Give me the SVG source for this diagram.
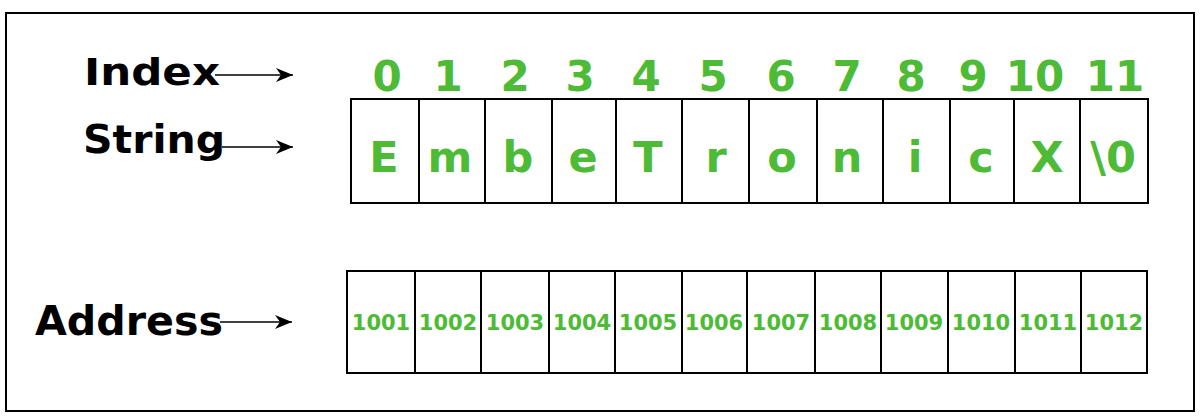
<svg xmlns="http://www.w3.org/2000/svg" width="1200" height="417" viewBox="0 0 1200 417">
<defs>
<marker id="ah" markerUnits="userSpaceOnUse" markerWidth="18" markerHeight="16" refX="17" refY="8" orient="auto">
<path d="M0,1 L17,8 L0,15 L5,8 z" fill="#000"/>
</marker>
<style>
.lbl{font-family:"DejaVu Sans","Liberation Sans",sans-serif;font-weight:bold;fill:#000}
.g{font-family:"DejaVu Sans","Liberation Sans",sans-serif;font-weight:bold;fill:#4dbb35;text-anchor:middle}
.idx{font-size:42px}
.ch{font-size:43px}
.ad{font-size:21px}
.cell{fill:#fff;stroke:#000;stroke-width:2}
.arr{stroke:#000;stroke-width:1.6;fill:none;marker-end:url(#ah)}
</style>
</defs>
<rect x="0" y="0" width="1200" height="417" fill="#fff"/>
<rect x="6" y="13" width="1188" height="398" fill="none" stroke="#000" stroke-width="2"/>

<g id="label-index"><text class="lbl" x="84" y="85" font-size="38" textLength="136" lengthAdjust="spacingAndGlyphs">Index</text></g>
<g id="label-string"><text class="lbl" x="83" y="153" font-size="39" textLength="142" lengthAdjust="spacingAndGlyphs">String</text></g>
<g id="label-address"><text class="lbl" x="35" y="335" font-size="41" textLength="188" lengthAdjust="spacingAndGlyphs">Address</text></g>

<g id="index-row">
<text class="g idx" x="387" y="91">0</text>
<text class="g idx" x="448" y="91">1</text>
<text class="g idx" x="515" y="91">2</text>
<text class="g idx" x="580" y="91">3</text>
<text class="g idx" x="646" y="91">4</text>
<text class="g idx" x="713" y="91">5</text>
<text class="g idx" x="781" y="91">6</text>
<text class="g idx" x="847" y="91">7</text>
<text class="g idx" x="911" y="91">8</text>
<text class="g idx" x="973" y="91">9</text>
<text class="g idx" x="1035" y="91">10</text>
<text class="g idx" x="1115" y="91">11</text>
</g>

<g id="string-cells">
<rect class="cell" x="351" y="99" width="68" height="104"/>
<rect class="cell" x="419" y="99" width="66" height="104"/>
<rect class="cell" x="485" y="99" width="67" height="104"/>
<rect class="cell" x="552" y="99" width="64" height="104"/>
<rect class="cell" x="616" y="99" width="66" height="104"/>
<rect class="cell" x="682" y="99" width="67" height="104"/>
<rect class="cell" x="749" y="99" width="68" height="104"/>
<rect class="cell" x="817" y="99" width="66" height="104"/>
<rect class="cell" x="883" y="99" width="67" height="104"/>
<rect class="cell" x="950" y="99" width="64" height="104"/>
<rect class="cell" x="1014" y="99" width="66" height="104"/>
<rect class="cell" x="1080" y="99" width="68" height="104"/>
<text class="g ch" x="384" y="172">E</text>
<text class="g ch" x="450" y="172">m</text>
<text class="g ch" x="518" y="172">b</text>
<text class="g ch" x="583" y="172">e</text>
<text class="g ch" x="648" y="172">T</text>
<text class="g ch" x="716" y="172">r</text>
<text class="g ch" x="782" y="172">o</text>
<text class="g ch" x="847" y="172">n</text>
<text class="g ch" x="915" y="172">i</text>
<text class="g ch" x="981" y="172">c</text>
<text class="g ch" x="1047" y="172">X</text>
<text class="g ch" x="1113" y="172">\0</text>
</g>

<g id="address-cells">
<rect class="cell" x="347" y="271" width="68" height="102"/>
<rect class="cell" x="415" y="271" width="66" height="102"/>
<rect class="cell" x="481" y="271" width="68" height="102"/>
<rect class="cell" x="549" y="271" width="66" height="102"/>
<rect class="cell" x="615" y="271" width="67" height="102"/>
<rect class="cell" x="682" y="271" width="65" height="102"/>
<rect class="cell" x="747" y="271" width="68" height="102"/>
<rect class="cell" x="815" y="271" width="66" height="102"/>
<rect class="cell" x="881" y="271" width="67" height="102"/>
<rect class="cell" x="948" y="271" width="67" height="102"/>
<rect class="cell" x="1015" y="271" width="66" height="102"/>
<rect class="cell" x="1081" y="271" width="66" height="102"/>
<text class="g ad" x="381" y="330">1001</text>
<text class="g ad" x="448" y="330">1002</text>
<text class="g ad" x="515" y="330">1003</text>
<text class="g ad" x="582" y="330">1004</text>
<text class="g ad" x="648" y="330">1005</text>
<text class="g ad" x="714" y="330">1006</text>
<text class="g ad" x="781" y="330">1007</text>
<text class="g ad" x="848" y="330">1008</text>
<text class="g ad" x="914" y="330">1009</text>
<text class="g ad" x="981" y="330">1010</text>
<text class="g ad" x="1048" y="330">1011</text>
<text class="g ad" x="1114" y="330">1012</text>
</g>

<g id="connectors">
<line class="arr" x1="215" y1="75" x2="293" y2="75"/>
<line class="arr" x1="222" y1="147" x2="293" y2="147"/>
<line class="arr" x1="220" y1="322" x2="292" y2="322"/>
</g>
</svg>
